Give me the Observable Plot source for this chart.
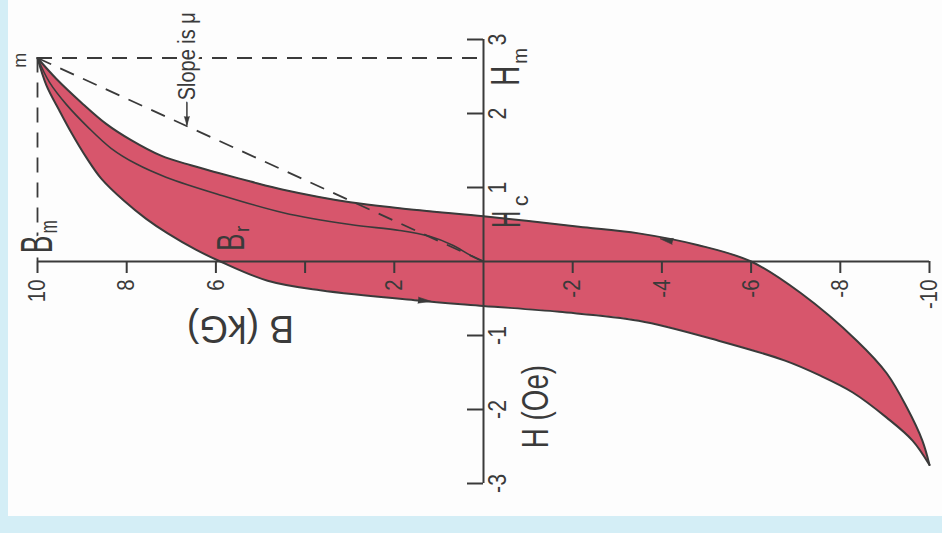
<!DOCTYPE html>
<html>
<head>
<meta charset="utf-8">
<script src="https://cdn.jsdelivr.net/npm/d3@7"></script>
<script src="https://cdn.jsdelivr.net/npm/@observablehq/plot@0.6"></script>
<style>
  html, body { margin: 0; padding: 0; background: #d4eef6; }
  #wrap { position: relative; width: 942px; height: 533px; overflow: hidden; }
  #paper { position: absolute; left: 8px; top: 0; width: 934px; height: 516px; background: #fdfdfd; }
  #chart { position: absolute; left: 0; top: 0; }
</style>
</head>
<body>
<div id="wrap"><div id="paper"></div><div id="chart"></div></div>
<script>
// Hysteresis loop of a soft magnetic material: flux density B (kG) against field H (Oe),
// laid out with the B axis running across (10 → −10) and the H axis running up.

// tip of the loop
const Bm = 10, Hm = 2.75;

// descending branch: from +Bm through Br (H = 0) and −Hc (B = 0) down to −Bm
const descB = [10, 9.80, 9.51, 9.24, 8.91, 8.57, 8.06, 7.57, 7.08, 6.45, 5.9, 4.84, 3.66, 1.43, 0, -1.70, -3.48, -5.27, -6.76, -7.54, -8.28, -9.04, -9.62, -10];
const descH = [2.75, 2.38, 2.04, 1.74, 1.41, 1.12, 0.82, 0.58, 0.38, 0.16, 0, -0.26, -0.39, -0.53, -0.6, -0.68, -0.80, -1.07, -1.34, -1.54, -1.77, -2.11, -2.42, -2.75];

// ascending branch: from −Bm through −Br and +Hc back up to +Bm
const ascB = [-10, -9.84, -9.49, -9.04, -8.37, -7.12, -6.0, -4.82, -3.48, -2.14, -0.96, 0, 1.88, 2.99, 4.49, 5.22, 5.96, 6.56, 7.23, 7.90, 8.46, 9.02, 9.58, 10];
const ascH = [-2.75, -2.42, -1.97, -1.51, -1.07, -0.43, 0, 0.22, 0.38, 0.47, 0.55, 0.61, 0.72, 0.80, 0.97, 1.08, 1.20, 1.30, 1.43, 1.64, 1.86, 2.15, 2.47, 2.75];

// initial magnetization curve from the demagnetized state to the tip
const initB = [0, 0.31, 0.69, 1.21, 1.88, 2.99, 4.49, 5.96, 7.12, 7.79, 8.35, 8.86, 9.35, 9.73, 10];
const initH = [0, 0.09, 0.22, 0.34, 0.42, 0.50, 0.66, 0.91, 1.14, 1.32, 1.53, 1.81, 2.12, 2.42, 2.75];

// direction arrows along the two branches
const flowB = [1.32, -4.1];
const flowH = [-0.53, 0.29];
const flowAngle = [95, -78];

// axis ticks
const tickB = [10, 8, 6, 4, 2, -2, -4, -6, -8, -10];
const tickBLabels = [10, 8, 6, 2, -2, -4, -6, -8, -10];
const tickH = [3, 2, 1, -1, -2, -3];

// permeability pointer
const slopeAt = {B: 6.65, H: 2.17};

const ink = "#3a3a3a";
const loopFill = "#d7566c";
const paper = "#fdfdfd";
const font = "'Liberation Sans', Arial, Helvetica, sans-serif";

const descending = descB.map((B, i) => ({B, H: descH[i]}));
const ascending = ascB.map((B, i) => ({B, H: ascH[i]}));
// both branches walked from the +Bm tip to the −Bm tip, paired point by point for the fill
const band = descending.map((d, i) => {
  const a = ascending[ascending.length - 1 - i];
  return {B1: d.B, H1: d.H, B2: a.B, H2: a.H};
});
const initial = initB.map((B, i) => ({B, H: initH[i]}));
const flows = flowB.map((B, i) => ({B, H: flowH[i], a: flowAngle[i]}));

// narrow lettering: each tagged text gets squeezed along its reading direction
const squeeze = {};
function note(d, {tag, sx = 1, ...o}) {
  squeeze[tag] = sx;
  return Plot.text([d], {
    x: "B", y: "H", text: "text", fill: ink, fontFamily: font,
    lineAnchor: "middle", ariaLabel: () => tag, ...o
  });
}

const halo = {stroke: paper, strokeWidth: 7, paintOrder: "stroke"};
const dash = {stroke: ink, strokeWidth: 1.8, strokeDasharray: "15,10"};
const curve = "catmull-rom";

const chart = Plot.plot({
  width: 942,
  height: 533,
  marginLeft: 37,
  marginRight: 13,
  marginTop: 39,
  marginBottom: 50,
  style: {background: "transparent", fontFamily: font},
  x: {domain: [10, -10], axis: null},
  y: {domain: [-3, 3], axis: null},
  marks: [
    // the loop
    Plot.area(band, {x1: "B1", y1: "H1", x2: "B2", y2: "H2", fill: loopFill, curve}),
    Plot.line(descending, {x: "B", y: "H", stroke: ink, strokeWidth: 2, curve}),
    Plot.line(ascending, {x: "B", y: "H", stroke: ink, strokeWidth: 2, curve}),
    Plot.line(initial, {x: "B", y: "H", stroke: ink, strokeWidth: 1.6, curve}),

    // axes through the origin
    Plot.ruleY([0], {x1: d3.max(tickB), x2: d3.min(tickB), stroke: ink, strokeWidth: 2}),
    Plot.ruleX([0], {y1: d3.min(tickH), y2: d3.max(tickH), stroke: ink, strokeWidth: 2}),
    Plot.ruleX(tickB, {x: d => d, y1: 0, y2: 0, insetBottom: -12, stroke: ink, strokeWidth: 2}),
    Plot.ruleY(tickH, {y: d => d, x1: 0, x2: 0, insetLeft: -16, stroke: ink, strokeWidth: 2}),

    // guides to the tip and the slope line
    Plot.ruleY([Hm], {x1: Bm, x2: 0, ...dash}),
    Plot.ruleX([Bm], {y1: Hm, y2: 0, ...dash}),
    Plot.link([0], {x1: Bm, y1: Hm, x2: 0, y2: 0, ...dash}),

    // branch direction heads
    Plot.vector(flows, {x: "B", y: "H", rotate: "a", length: 13, r: 3, shape: "spike", anchor: "middle", fill: ink, stroke: ink, strokeWidth: 0.6}),

    // pointer from the label to the slope line
    Plot.link([slopeAt], {x1: "B", y1: "H", x2: "B", y2: d => Hm * d.B / Bm + 0.02, stroke: ink, strokeWidth: 1.5}),
    Plot.vector([slopeAt], {x: "B", y: d => Hm * d.B / Bm + 0.01, rotate: 180, length: 9, r: 2.6, shape: "spike", anchor: "end", fill: ink, stroke: ink, strokeWidth: 0.5}),

    // tick labels
    Plot.text(tickBLabels, {x: d => d, y: 0, text: d => String(d), rotate: -90, textAnchor: "end", dy: 18, fontSize: 24, fill: ink, fontFamily: font, ariaLabel: () => "tickB"}),
    Plot.text(tickH, {x: 0, y: d => d, text: d => String(d), rotate: -90, textAnchor: "middle", dx: 14, fontSize: 25, fill: ink, fontFamily: font, ariaLabel: () => "tickH"}),

    // annotations
    note({text: "Slope is μ", B: slopeAt.B, H: slopeAt.H + 0.01}, {tag: "slope", sx: 0.83, rotate: -90, textAnchor: "start", fontSize: 24, ...halo, strokeWidth: 9}),
    note({text: "m", B: 10.4, H: 2.72}, {tag: "tip", sx: 0.95, rotate: -90, fontSize: 19}),
    note({text: "B", B: 9.99, H: 0.23}, {tag: "bmB", sx: 0.6, rotate: -90, fontSize: 44, ...halo}),
    note({text: "m", B: 9.73, H: 0.47}, {tag: "bmSub", sx: 0.65, rotate: -90, fontSize: 24, ...halo}),
    note({text: "B", B: 5.65, H: 0.26}, {tag: "brB", sx: 0.68, rotate: -90, fontSize: 38}),
    note({text: "r", B: 5.41, H: 0.44}, {tag: "brSub", sx: 1, rotate: -90, fontSize: 20}),
    note({text: "H", B: -0.52, H: 0.57}, {tag: "hcH", sx: 0.6, rotate: -90, fontSize: 40}),
    note({text: "c", B: -0.85, H: 0.82}, {tag: "hcSub", sx: 1, rotate: -90, fontSize: 22}),
    note({text: "H", B: -0.52, H: 2.51}, {tag: "hmH", sx: 0.69, rotate: -90, fontSize: 40}),
    note({text: "m", B: -0.83, H: 2.78}, {tag: "hmSub", sx: 0.9, rotate: -90, fontSize: 21}),
    note({text: "B (kG)", B: 5.45, H: -0.90}, {tag: "titleB", sx: 0.95, rotate: 180, fontSize: 39}),
    note({text: "H (Oe)", B: -1.17, H: -1.96}, {tag: "titleH", sx: 0.75, rotate: -90, fontSize: 37})
  ]
});

squeeze.tickB = 0.85;
squeeze.tickH = 0.85;
for (const [tag, sx] of Object.entries(squeeze)) {
  if (sx === 1) continue;
  d3.select(chart).selectAll(`text[aria-label="${tag}"]`).attr("transform", function () {
    return (this.getAttribute("transform") || "") + ` scale(${sx},1)`;
  });
}

document.getElementById("chart").appendChild(chart);
</script>
</body>
</html>
